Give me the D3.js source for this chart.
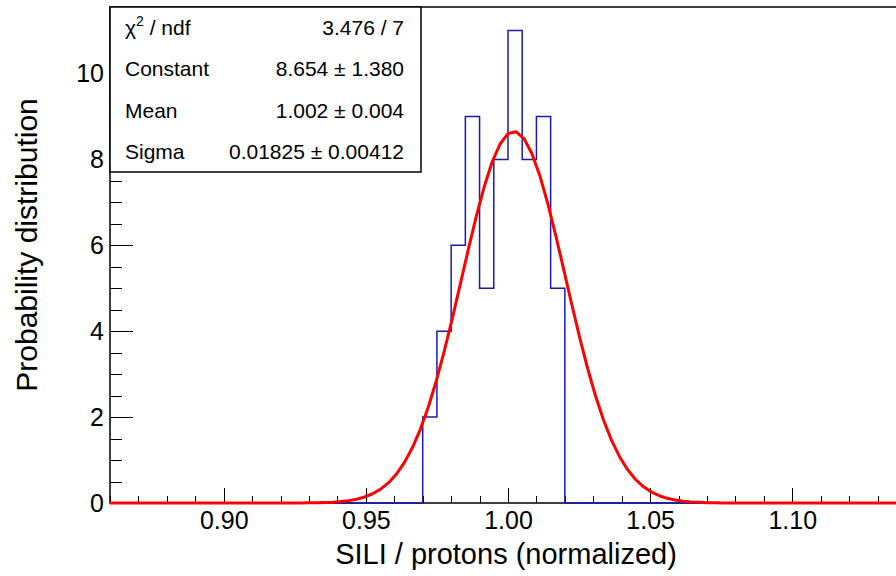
<!DOCTYPE html>
<html>
<head>
<meta charset="utf-8">
<title>SILI / protons fit</title>
<script src="https://d3js.org/d3.v7.min.js"></script>
<style>
  body { margin: 0; background: #fff; }
  svg { display: block; font-family: "Liberation Sans", Arial, sans-serif; }
  .axis text { font-size: 25px; fill: #000; }
  .axis line { stroke: #000; stroke-width: 1; shape-rendering: crispEdges; }
</style>
</head>
<body>
<script>
// histogram bins (low edges) and contents
var binLow = [0.970, 0.975, 0.980, 0.985, 0.990, 0.995, 1.000, 1.005, 1.010, 1.015];
var binCounts = [2, 4, 6, 9, 5, 8, 11, 8, 9, 5];
var binWidth = 0.005;

// gaussian fit: constant, mean, sigma
var fitPar = [8.654, 1.002, 0.01825];

// stats box
var statNames = ["χ2 / ndf", "Constant", "Mean", "Sigma"];
var statValues = ["3.476 / 7", "8.654 ± 1.380", "1.002 ± 0.004", "0.01825 ± 0.00412"];

// axes
var xMajor = [0.90, 0.95, 1.00, 1.05, 1.10];
var xLabels = ["0.90", "0.95", "1.00", "1.05", "1.10"];
var yMajor = [0, 2, 4, 6, 8, 10];

var width = 896, height = 576;
var xMin = 0.86, xMax = 1.14, yMax = 11.55;

var x = d3.scaleLinear().domain([xMin, xMax]).range([110, 906]);
var y = d3.scaleLinear().domain([0, yMax]).range([503, 7]);

var svg = d3.select("body").append("svg")
  .attr("width", width).attr("height", height);

// minor tick positions
var xMinor = d3.range(86, 115).map(function(d) { return d / 100; })
  .filter(function(d) { return Math.abs(Math.round(d * 20) - d * 20) > 1e-6; });
var yMinor = d3.range(0, 24).map(function(d) { return d / 2; })
  .filter(function(d) { return d % 2 !== 0; });

// x axis
svg.append("g").attr("class", "axis")
  .attr("transform", "translate(0," + y(0) + ")")
  .call(d3.axisBottom(x).tickValues(xMinor).tickSizeInner(-7.5).tickSizeOuter(0).tickFormat(""))
  .call(function(g) { g.select(".domain").remove(); });
svg.append("g").attr("class", "axis")
  .attr("transform", "translate(0," + y(0) + ")")
  .call(d3.axisBottom(x).tickValues(xMajor).tickSizeInner(-15).tickSizeOuter(0).tickPadding(8)
    .tickFormat(function(d, i) { return xLabels[i]; }))
  .call(function(g) { g.select(".domain").remove(); });

// y axis
svg.append("g").attr("class", "axis")
  .attr("transform", "translate(" + x(xMin) + ",0)")
  .call(d3.axisLeft(y).tickValues(yMinor).tickSizeInner(-11.5).tickSizeOuter(0).tickFormat(""))
  .call(function(g) { g.select(".domain").remove(); });
svg.append("g").attr("class", "axis")
  .attr("transform", "translate(" + x(xMin) + ",0)")
  .call(d3.axisLeft(y).tickValues(yMajor).tickSizeInner(-23).tickSizeOuter(0).tickPadding(6))
  .call(function(g) { g.select(".domain").remove(); });

// frame
svg.append("path")
  .attr("d", "M" + x(xMax) + "," + y(yMax) + "H" + x(xMin) + "V" + y(0) + "H" + x(xMax))
  .attr("fill", "none").attr("stroke", "#000").attr("stroke-width", 1.5);

// histogram outline
var pts = [[xMin, 0]];
binLow.forEach(function(lo, i) {
  pts.push([lo, i === 0 ? 0 : binCounts[i - 1]]);
  pts.push([lo, binCounts[i]]);
});
var lastHi = binLow[binLow.length - 1] + binWidth;
pts.push([lastHi, binCounts[binCounts.length - 1]]);
pts.push([lastHi, 0]);
pts.push([xMax, 0]);

svg.append("path")
  .datum(pts)
  .attr("d", d3.line().x(function(d) { return x(d[0]); }).y(function(d) { return y(d[1]); }))
  .attr("fill", "none").attr("stroke", "#1a1ab0").attr("stroke-width", 1.5);

// fit curve
var fitX = d3.range(0, 101).map(function(i) { return xMin + i * (xMax - xMin) / 100; });
svg.append("path")
  .datum(fitX)
  .attr("d", d3.line()
    .x(function(d) { return x(d); })
    .y(function(d) { var t = (d - fitPar[1]) / fitPar[2]; return y(fitPar[0] * Math.exp(-0.5 * t * t)); }))
  .attr("fill", "none").attr("stroke", "#ff0000").attr("stroke-width", 3)
  .attr("stroke-linejoin", "round");

// stats box
var boxX = 110, boxY = 7, boxW = 311, boxH = 165;
var rowH = boxH / statNames.length;
svg.append("rect")
  .attr("x", boxX).attr("y", boxY).attr("width", boxW).attr("height", boxH)
  .attr("fill", "#fff").attr("stroke", "#000").attr("stroke-width", 1.5);

statNames.forEach(function(name, i) {
  var by = boxY + rowH * (i + 0.5) + 7.5;
  var t = svg.append("text").attr("x", boxX + 15).attr("y", by)
    .attr("font-size", "21px");
  if (i === 0) {
    t.append("tspan").text("χ");
    t.append("tspan").attr("font-size", "14px").attr("dy", -9).text("2");
    t.append("tspan").attr("dy", 9).text(" / ndf");
  } else {
    t.text(name);
  }
  svg.append("text").attr("x", boxX + boxW - 17).attr("y", by)
    .attr("text-anchor", "end").attr("font-size", "21px").text(statValues[i]);
});

// axis titles
svg.append("text")
  .attr("x", 506).attr("y", 564)
  .attr("text-anchor", "middle").attr("font-size", "29px")
  .text("SILI / protons (normalized)");
svg.append("text")
  .attr("transform", "translate(37,245) rotate(-90)")
  .attr("text-anchor", "middle").attr("font-size", "30px")
  .text("Probability distribution");
</script>
</body>
</html>
